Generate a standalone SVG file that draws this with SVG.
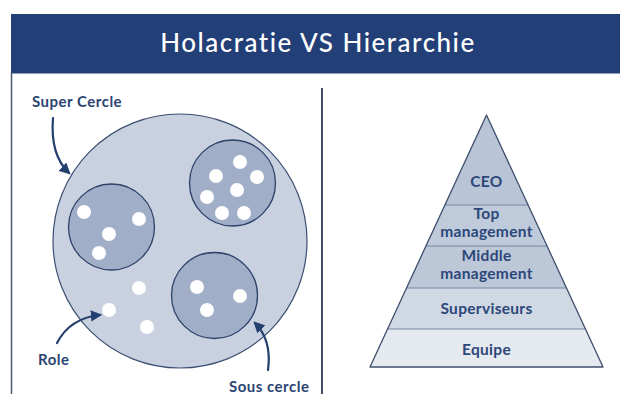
<svg xmlns="http://www.w3.org/2000/svg" width="620" height="394" viewBox="0 0 620 394">
  <style>
    .lbl { font-family: Lato, "Open Sans", "Liberation Sans", sans-serif; font-weight: 700; fill: #2b4472; font-size: 15px; letter-spacing: 0.5px; }
    .pyr { font-family: Lato, "Open Sans", "Liberation Sans", sans-serif; font-weight: 700; fill: #2c4779; font-size: 15.5px; letter-spacing: 0.3px; text-anchor: middle; }
    .title { font-family: Lato, "Open Sans", "Liberation Sans", sans-serif; font-weight: 500; fill: #ffffff; font-size: 26px; letter-spacing: 1.5px; text-anchor: middle; }
    .outer { fill: #c9d1e0; stroke: #3b4f72; stroke-width: 1.2; }
    .sub { fill: #a1aec8; stroke: #2c4268; stroke-width: 1.3; }
    .role { fill: #ffffff; }
    .arrow { fill: none; stroke: #24406f; stroke-width: 2.2; stroke-linecap: round; }
    .band { stroke: #7486a3; stroke-width: 1.2; }
  </style>
  <defs>
    <marker id="head" viewBox="0 0 10 10" refX="8" refY="5" markerWidth="5.2" markerHeight="5.2" orient="auto" markerUnits="strokeWidth">
      <path d="M0,0 L10,5 L0,10 z" fill="#24406f"/>
    </marker>
  </defs>

  <rect width="620" height="394" fill="#ffffff"/>

  <!-- header band -->
  <g id="header">
    <rect x="11" y="14" width="609" height="59" fill="#233f77"/>
    <line x1="11" y1="73.5" x2="620" y2="73.5" stroke="#8fa0b8" stroke-width="1"/>
    <text class="title" x="318" y="52">Holacratie VS Hierarchie</text>
  </g>

  <!-- frame and divider -->
  <line x1="11.5" y1="73" x2="11.5" y2="394" stroke="#4a5a72" stroke-width="1.5"/>
  <line x1="322" y1="88" x2="322" y2="394" stroke="#3d4d64" stroke-width="2"/>

  <!-- holacracy circles -->
  <g id="super-cercle">
    <circle class="outer" cx="180" cy="241" r="127"/>
  </g>
  <g id="cercle-a">
    <circle class="sub" cx="111.5" cy="227" r="43"/>
    <circle class="role" cx="84" cy="212" r="7"/>
    <circle class="role" cx="139" cy="219" r="7"/>
    <circle class="role" cx="109" cy="234" r="7"/>
    <circle class="role" cx="99" cy="253" r="7"/>
  </g>
  <g id="cercle-b">
    <circle class="sub" cx="232.5" cy="183" r="43"/>
    <circle class="role" cx="240" cy="162" r="7"/>
    <circle class="role" cx="216" cy="176" r="7"/>
    <circle class="role" cx="257" cy="177" r="7"/>
    <circle class="role" cx="237" cy="190" r="7"/>
    <circle class="role" cx="207" cy="197" r="7"/>
    <circle class="role" cx="222" cy="213" r="7"/>
    <circle class="role" cx="244" cy="213" r="7"/>
  </g>
  <g id="cercle-c">
    <circle class="sub" cx="214.5" cy="295.5" r="43"/>
    <circle class="role" cx="197" cy="287" r="7"/>
    <circle class="role" cx="240" cy="296" r="7"/>
    <circle class="role" cx="207" cy="310" r="7"/>
  </g>
  <g id="roles-libres">
    <circle class="role" cx="139" cy="288" r="7"/>
    <circle class="role" cx="109" cy="310" r="7"/>
    <circle class="role" cx="147" cy="327" r="7"/>
  </g>

  <!-- callout arrows -->
  <g id="connectors">
    <path class="arrow" d="M53,118 Q50,155 69,173" marker-end="url(#head)"/>
    <path class="arrow" d="M57,343 Q70,318 100,315" marker-end="url(#head)"/>
    <path class="arrow" d="M268,370 Q272,340 255,323" marker-end="url(#head)"/>
  </g>

  <g id="label-super-cercle"><text class="lbl" x="32" y="107">Super Cercle</text></g>
  <g id="label-role"><text class="lbl" x="38" y="365">Role</text></g>
  <g id="label-sous-cercle"><text class="lbl" x="229" y="392">Sous cercle</text></g>

  <!-- hierarchy pyramid -->
  <g id="pyramide">
    <g id="niveau-ceo">
      <polygon points="486.5,115 528.1,205 444.9,205" fill="#b9c4d6"/>
      <text class="pyr" x="486.5" y="187">CEO</text>
    </g>
    <g id="niveau-top">
      <polygon points="444.9,205 528.1,205 547.1,246 425.9,246" fill="#bfcadb"/>
      <text class="pyr" x="486.5" y="219">Top</text>
      <text class="pyr" x="486.5" y="237">management</text>
    </g>
    <g id="niveau-middle">
      <polygon points="425.9,246 547.1,246 566.5,288 406.5,288" fill="#bcc7d8"/>
      <text class="pyr" x="486.5" y="261">Middle</text>
      <text class="pyr" x="486.5" y="279">management</text>
    </g>
    <g id="niveau-superviseurs">
      <polygon points="406.5,288 566.5,288 585.4,329 387.6,329" fill="#d0d8e4"/>
      <text class="pyr" x="486.5" y="314">Superviseurs</text>
    </g>
    <g id="niveau-equipe">
      <polygon points="387.6,329 585.4,329 603,367 370,367" fill="#e5e9f0"/>
      <text class="pyr" x="486.5" y="355">Equipe</text>
    </g>
    <line class="band" x1="444.9" y1="205" x2="528.1" y2="205"/>
    <line class="band" x1="425.9" y1="246" x2="547.1" y2="246"/>
    <line class="band" x1="406.5" y1="288" x2="566.5" y2="288"/>
    <line class="band" x1="387.6" y1="329" x2="585.4" y2="329"/>
    <polygon points="486.5,115 603,367 370,367" fill="none" stroke="#3e4f6c" stroke-width="1.3" stroke-linejoin="round"/>
  </g>
</svg>
